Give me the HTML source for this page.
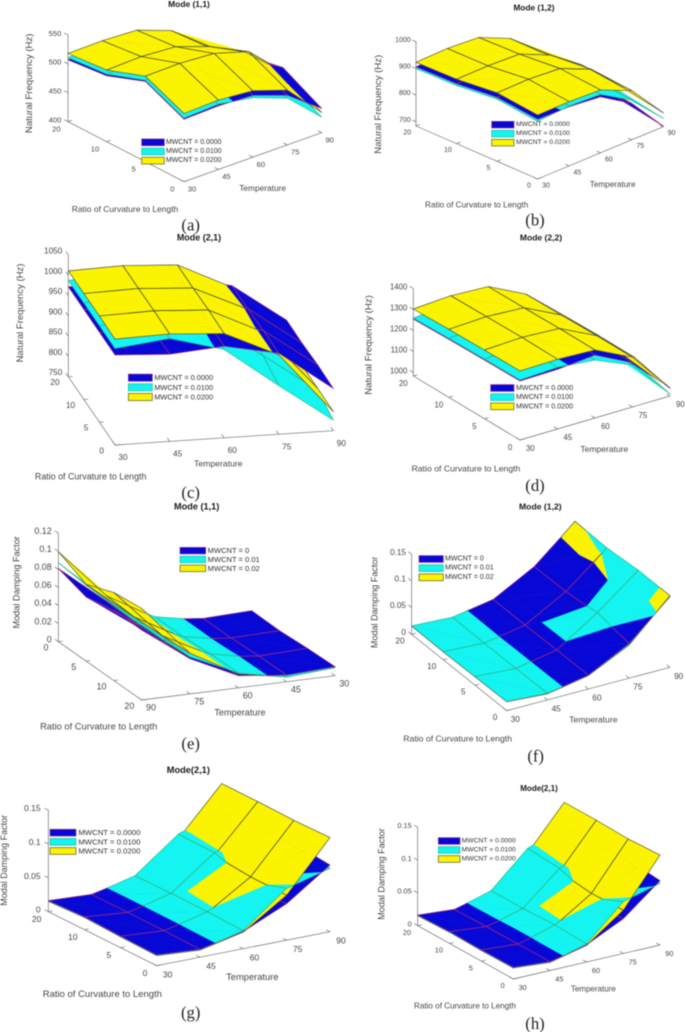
<!DOCTYPE html>
<html lang="en">
<head>
<meta charset="utf-8">
<title>Natural frequency and modal damping surfaces</title>
<style>
html,body{margin:0;padding:0;background:#fff;}
#figure{display:block;width:685px;height:1032px;filter:blur(.45px);font-family:"Liberation Sans",Arial,sans-serif;}
</style>
</head>
<body>
<svg id="figure" xmlns="http://www.w3.org/2000/svg" width="685" height="1032" viewBox="0 0 685 1032"></svg>
<script>
const temperatureTicks = [30, 45, 60, 75, 90];
const ratioTicks = [0, 5, 10, 20];

const freqLegend = ["MWCNT = 0.0000", "MWCNT = 0.0100", "MWCNT = 0.0200"];
const shortLegend = ["MWCNT = 0", "MWCNT = 0.01", "MWCNT = 0.02"];

const aZTicks = [400, 450, 500, 550];
const aBlue = [[508,510,507,486,442],[539,540,537,518,478],[514,517,514,492,460],[507,510,507,486,435]];
const aCyan = [[510,513,503,481,427],[541,542,534,513,462],[517,519,511,487,460],[511,512,504,480,430]];
const aYellow = [[518,520,515,495,435],[548,549,545,527,471],[524,526,522,501,471],[518,519,516,494,446]];

const bZTicks = [700, 800, 900, 1000];
const bBlue = [[908,906,894,820,686],[924,924,908,834,715],[909,908,896,821,733],[906,907,892,817,713]];
const bCyan = [[900,909,903,833,715],[917,927,917,847,744],[902,911,905,834,762],[899,910,901,830,742]];
const bYellow = [[924,925,920,868,736],[941,943,934,882,765],[926,927,922,869,783],[923,926,918,865,763]];

const cZTicks = [750, 800, 850, 900, 950, 1000, 1050];
const cBlue = [[972,965,976,950,854],[972,965,976,950,856],[972,965,976,948,853],[972,965,976,948,854]];
const cCyan = [[988,1004,968,870,776],[988,1004,970,888,794],[988,1004,970,885,790],[987,1004,970,885,785]];
const cYellow = [[1011,1015,1007,946,797],[1012,1016,1009,946,798],[1011,1015,1007,946,798],[1011,1015,1008,944,798]];

const dZTicks = [1000, 1100, 1200, 1300, 1400];
const dBlue = [[1264,1267,1283,1194,1022],[1262,1270,1284,1195,1060],[1259,1267,1281,1192,1061],[1254,1265,1280,1190,1058]];
const dCyan = [[1269,1277,1259,1183,993],[1267,1280,1260,1184,1039],[1264,1277,1257,1181,1040],[1259,1275,1256,1179,1037]];
const dYellow = [[1312,1315,1307,1220,1020],[1310,1318,1308,1221,1066],[1307,1315,1305,1218,1067],[1302,1313,1304,1216,1064]];

const eZTicks = [0, 0.02, 0.04, 0.06, 0.08, 0.1, 0.12];
const eBlue = [[0.0074,0.0056,0.0112,0.038,0.081],[0.0068,0.0055,0.0106,0.036,0.071],[0.0089,0.007,0.013,0.037,0.078],[0.01,0.0074,0.0135,0.039,0.0775]];
const eCyan = [[0.0064,0.0036,0.0142,0.04,0.0875],[0.0058,0.0035,0.0136,0.038,0.084],[0.0079,0.005,0.016,0.039,0.0857],[0.009,0.0054,0.0165,0.041,0.087]];
const eYellow = [[0.0062,0.0034,0.0132,0.044,0.0997],[0.0056,0.0033,0.0126,0.042,0.085],[0.0077,0.0048,0.015,0.043,0.0975],[0.0088,0.0052,0.0155,0.045,0.1015]];

const fZTicks = [0, 0.05, 0.1, 0.15];
const fBlue = [[0.017,0.012,0.026,0.065,0.1325],[0.016,0.011,0.0256,0.074,0.132],[0.015,0.0106,0.0245,0.067,0.1277],[0.0156,0.0116,0.025,0.066,0.13]];
const fCyan = [[0.0174,0.0123,0.0255,0.0629,0.134],[0.0164,0.0113,0.0251,0.0757,0.1344],[0.0154,0.0109,0.024,0.0637,0.1288],[0.016,0.0119,0.0245,0.063,0.1307]];
const fYellow = [[0.0166,0.0112,0.025,0.0619,0.1345],[0.0156,0.0102,0.0246,0.0745,0.1334],[0.0146,0.0098,0.0235,0.0651,0.1286],[0.0152,0.0108,0.024,0.0645,0.1308]];

const gZTicks = [0, 0.05, 0.1, 0.15];
const gBlue = [[0.016,0.0116,0.0253,0.054,0.0985],[0.017,0.0126,0.0267,0.05,0.104],[0.019,0.013,0.0273,0.05,0.104],[0.0163,0.013,0.0267,0.05,0.104]];
const gCyan = [[0.0153,0.0109,0.0266,0.0766,0.0936],[0.0163,0.0119,0.028,0.059,0.1],[0.0183,0.0123,0.0286,0.076,0.1],[0.0156,0.0123,0.028,0.077,0.1]];
const gYellow = [[0.0148,0.0104,0.0246,0.0665,0.139],[0.0158,0.0114,0.0267,0.067,0.138],[0.0178,0.0118,0.0266,0.072,0.139],[0.0151,0.0118,0.026,0.07,0.139]];

const hZTicks = [0, 0.05, 0.1, 0.15];
const hBlue = [[0.0178,0.0135,0.0261,0.053,0.098],[0.0173,0.0133,0.0282,0.05,0.103],[0.018,0.0127,0.0262,0.05,0.103],[0.0162,0.0119,0.0261,0.05,0.103]];
const hCyan = [[0.0171,0.0128,0.0274,0.079,0.094],[0.0166,0.0126,0.0295,0.058,0.1],[0.0173,0.012,0.0275,0.0755,0.1],[0.0155,0.0112,0.0274,0.079,0.1]];
const hYellow = [[0.0166,0.0123,0.0254,0.066,0.137],[0.0161,0.0121,0.0282,0.0645,0.1345],[0.0168,0.0115,0.0255,0.0705,0.136],[0.015,0.0107,0.0254,0.072,0.136]];

const seriesFill = ["#0808d6", "#14f4f0", "#fbf300"];
const seriesEdge = ["#a0287c", "#28b884", "#50503a"];
const NS = "http://www.w3.org/2000/svg";
const zFreq = "Natural Frequency (Hz)";
const zDamp = "Modal Damping Factor";

const panels = [
 {cap:"(a)",title:"Mode (1,1)",zTitle:zFreq,ox:0,oy:0,O:[552,545],t:[103.25,-36.75],r:[-116,-60],zMin:400,zMax:550,h:260,zTicks:aZTicks,s:[aBlue,aCyan,aYellow],
  row:0,col:0,zc:[0,3],tf:22.8,zl:[-20,-5],rl:[-35,22],tl:[24,22],tP:[788,564],tS:25,rP:[375,627],rS:25.5,ttP:[567,12],ttS:25.3,zP:[88,250],zS:28.8,cP:[572,675],
  leg:{x:425,y:427,rowH:27.5,sw:68,tx:498,fs:20.8,names:freqLegend}},
 {cap:"(b)",title:"Mode (1,2)",zTitle:zFreq,ox:345,oy:0,O:[578,537],t:[94.25,-39.25],r:[-121.7,-53],zMin:684,zMax:1000,h:252.8,zTicks:bZTicks,s:[bBlue,bCyan,bYellow],
  row:0,col:0,zc:[0,3],tf:21,zl:[-16,-4],rl:[-26,21],tl:[25,21],tP:[803,553],tS:24.5,rP:[395,615],rS:24.7,ttP:[567,23],ttS:24.9,zP:[100,313],zS:28.6,cP:[570,660],
  leg:{x:440,y:374,rowH:27,sw:67,tx:513,fs:20.2,names:freqLegend}},
 {cap:"(c)",title:"Mode (2,1)",zTitle:zFreq,ox:0,oy:240,O:[345,615],t:[163.75,-10.75],r:[-46.7,-68.3],zMin:750,zMax:1050,h:365,zTicks:cZTicks,s:[cBlue,cCyan,cYellow],
  row:0,col:0,zc:[0,3],tf:24.7,zl:[-18,-12],rl:[-40,18],tl:[24,38],tP:[655,670],tS:26,rP:[272,709],rS:26.7,ttP:[597,-8],ttS:26.9,zP:[62,219],zS:28.6,cP:[572,757],
  leg:{x:385,y:413,rowH:29,sw:72,tx:463,fs:22,names:freqLegend}},
 {cap:"(d)",title:"Mode (2,2)",zTitle:zFreq,ox:345,oy:240,O:[525,600],t:[112.5,-33],r:[-106.7,-64],zMin:983,zMax:1400,h:262.7,zTicks:dZTicks,s:[dBlue,dCyan,dYellow],
  row:0,col:0,zc:[0,3],tf:23.4,zl:[-18,-5],rl:[-30,23],tl:[31,25],tP:[778,627],tS:25.7,rP:[363,686],rS:26,ttP:[588,-8],ttS:25.7,zP:[72,315],zS:28.8,cP:[570,737],
  leg:{x:437,y:444,rowH:27.5,sw:70,tx:513,fs:21.4,names:freqLegend}},
 {cap:"(e)",title:"Mode (1,1)",zTitle:zDamp,ox:0,oy:500,O:[755,352],t:[-145,18.25],r:[83.33,58.33],zMin:0,zMax:0.12,h:325,zTicks:eZTicks,s:[eBlue,eCyan,eYellow],
  row:3,col:4,zc:[4,0],tf:26.7,zl:[-20,-7],rl:[-37,18],tl:[28,23],tP:[720,637],tS:27.4,rP:[296,680],rS:28,ttP:[590,20],ttS:27.5,zP:[50,247],zS:27.4,cP:[572,730],
  leg:{x:540,y:152,rowH:26.5,sw:77,tx:623,fs:22.7,names:shortLegend}},
 {cap:"(f)",title:"Mode (1,2)",zTitle:zDamp,ox:345,oy:500,O:[485,632],t:[122.5,-32.5],r:[-95,-76.33],zMin:0,zMax:0.15,h:240,zTicks:fZTicks,s:[fBlue,fCyan,fYellow],
  row:0,col:0,zc:[0,3],tf:24.7,zl:[-17,-6],rl:[-35,20],tl:[26,27],tP:[745,658],tS:25.9,rP:[338,716],rS:26,ttP:[586,20],ttS:25.9,zP:[88,307],zS:27.2,cP:[572,768],
  leg:{x:222,y:177,rowH:27.5,sw:73,tx:300,fs:21.2,names:shortLegend}},
 {cap:"(g)",title:"Mode(2,1)",zTitle:zDamp,ox:0,oy:760,O:[470,617],t:[130,-25.5],r:[-108.33,-54],zMin:0,zMax:0.15,h:304.5,zTicks:gZTicks,s:[gBlue,gCyan,gYellow],
  row:0,col:0,zc:[0,3],tf:25.7,zl:[-23,-6],rl:[-35,22],tl:[33,26],tP:[757,651],tS:28,rP:[307,703],rS:28.5,ttP:[565,30],ttS:27.8,zP:[12,301],zS:27,cP:[572,758],
  leg:{x:150,y:218,rowH:27.5,sw:78,tx:235,fs:23.3,names:freqLegend}},
 {cap:"(h)",title:"Mode(2,1)",zTitle:zDamp,ox:345,oy:760,O:[505,657],t:[110,-25.5],r:[-95.67,-53.33],zMin:0,zMax:0.15,h:295.5,zTicks:hZTicks,s:[hBlue,hCyan,hYellow],
  row:0,col:0,zc:[0,3],tf:22,zl:[-18,-5],rl:[-32,20],tl:[28,25],tP:[745,687],tS:24.1,rP:[360,738],rS:24.4,ttP:[582,86],ttS:24.2,zP:[110,342],zS:27.2,cP:[570,790],
  leg:{x:280,y:243,rowH:27,sw:65,tx:350,fs:20.3,names:freqLegend}}
];

const orders = [[0,1,2],[0,2,1],[1,0,2],[1,2,0],[2,0,1],[2,1,0]];

function make(parent, tag){
  const el = document.createElementNS(NS, tag);
  parent.appendChild(el);
  return el;
}
function drawLine(parent, x1, y1, x2, y2, color, width){
  const el = make(parent, "line");
  el.setAttribute("x1", x1.toFixed(1));
  el.setAttribute("y1", y1.toFixed(1));
  el.setAttribute("x2", x2.toFixed(1));
  el.setAttribute("y2", y2.toFixed(1));
  el.setAttribute("stroke", color);
  el.setAttribute("stroke-width", width);
  el.setAttribute("stroke-linecap", "round");
  return el;
}
function drawText(parent, x, y, str, size, color, anchor, weight){
  const el = make(parent, "text");
  el.setAttribute("x", x);
  el.setAttribute("y", y);
  el.setAttribute("font-size", size);
  el.setAttribute("fill", color);
  el.setAttribute("text-anchor", anchor);
  el.setAttribute("dominant-baseline", "central");
  if (weight) el.setAttribute("font-weight", weight);
  el.textContent = str;
  return el;
}
function mix(a, b, k){
  return {x:a.x+(b.x-a.x)*k, y:a.y+(b.y-a.y)*k, z:a.z.map((v,i)=>v+(b.z[i]-v)*k)};
}
function clipPoly(poly, hi, lo){
  const out = [];
  for (let i=0;i<poly.length;i++){
    const a = poly[i], b = poly[(i+1)%poly.length];
    const da = a.z[hi]-a.z[lo], db = b.z[hi]-b.z[lo];
    if (da>=0) out.push(a);
    if ((da>=0)!==(db>=0)) out.push(mix(a,b,da/(da-db)));
  }
  return out;
}
function clipSeg(seg, hi, lo){
  if (seg.length<2) return [];
  const a = seg[0], b = seg[1];
  const da = a.z[hi]-a.z[lo], db = b.z[hi]-b.z[lo];
  if (da<0 && db<0) return [];
  if (da>=0 && db>=0) return seg;
  const m = mix(a,b,da/(da-db));
  return da>=0 ? [a,m] : [m,b];
}
function floorArea(poly){
  let s = 0;
  for (let i=0;i<poly.length;i++){
    const a = poly[i], b = poly[(i+1)%poly.length];
    s += a.x*b.y-b.x*a.y;
  }
  return Math.abs(s)/2;
}
function unit(v){
  const n = Math.hypot(v[0],v[1]);
  return [v[0]/n,v[1]/n];
}

function drawPanel(p){
  const root = document.getElementById("figure");
  const g = make(root, "g");
  g.setAttribute("transform", "translate("+p.ox+" "+p.oy+") scale(0.33333)");
  
  

  const tPos = v => (v-temperatureTicks[0])/(temperatureTicks[temperatureTicks.length-1]-temperatureTicks[0])*(temperatureTicks.length-1);
  const rPos = v => ratioTicks.indexOf(v);
  const zPix = v => (v-p.zMin)/(p.zMax-p.zMin)*p.h;
  const fx = (ti,ri) => p.O[0]+ti*p.t[0]+ri*p.r[0];
  const fy = (ti,ri) => p.O[1]+ti*p.t[1]+ri*p.r[1];

  const axisColor = "#6a6a6a", textColor = "#454545", tickLen = 12;
  const lastT = temperatureTicks.length-1, lastR = ratioTicks.length-1;

  /* axes */
  const zx = fx(p.zc[0],p.zc[1]), zy = fy(p.zc[0],p.zc[1]);
  const zAxis = drawLine(g, zx, zy, zx, zy-zPix(p.zMax), axisColor, 2);
  
  
  const rDir = unit(p.r), tDir = unit(p.t);
  const zOut = p.zc[1]===0 ? -1 : 1;
  p.zTicks.forEach(v=>{
    const y = zy-zPix(v);
    const tick = drawLine(g, zx, y, zx+zOut*rDir[0]*tickLen, y+zOut*rDir[1]*tickLen, axisColor, 2);
    
    
    const lab = drawText(g, zx+p.zl[0], y+p.zl[1], String(v), p.tf, textColor, "end");
    
    
  });

  const tAxis = drawLine(g, fx(0,p.row), fy(0,p.row), fx(lastT,p.row), fy(lastT,p.row), axisColor, 2);
  
  
  const tIn = p.row===0 ? 1 : -1;
  temperatureTicks.forEach(v=>{
    const i = tPos(v), x = fx(i,p.row), y = fy(i,p.row);
    const tick = drawLine(g, x, y, x+tIn*rDir[0]*tickLen, y+tIn*rDir[1]*tickLen, axisColor, 2);
    
    
    const lab = drawText(g, x+p.tl[0], y+p.tl[1], String(v), p.tf, textColor, "middle");
    
    
  });

  const rAxis = drawLine(g, fx(p.col,0), fy(p.col,0), fx(p.col,lastR), fy(p.col,lastR), axisColor, 2);
  
  
  const rIn = p.col===0 ? 1 : -1;
  ratioTicks.forEach(v=>{
    const i = rPos(v), x = fx(p.col,i), y = fy(p.col,i);
    const tick = drawLine(g, x, y, x+rIn*tDir[0]*tickLen, y+rIn*tDir[1]*tickLen, axisColor, 2);
    
    
    const lab = drawText(g, x+p.rl[0], y+p.rl[1], String(v), p.tf, textColor, "middle");
    
    
  });

  /* surfaces: split every triangle by which series is lowest, middle and highest,
     then paint all lowest pieces, all middle pieces, and finally the upper envelope */
  const node = (ti,ri) => ({x:fx(ti,ri), y:fy(ti,ri), z:p.s.map(m=>zPix(m[ri][ti]))});
  const tris = [];
  for (let ri=0;ri<lastR;ri++){
    for (let ti=0;ti<lastT;ti++){
      const A = node(ti,ri), B = node(ti+1,ri), C = node(ti,ri+1), D = node(ti+1,ri+1);
      tris.push({pts:[A,B,C], edges:[[A,B],[A,C]]});
      tris.push({pts:[B,D,C], edges:[[B,D],[D,C]]});
    }
  }
  tris.sort((u,v)=>(u.pts[0].y+u.pts[1].y+u.pts[2].y)-(v.pts[0].y+v.pts[1].y+v.pts[2].y));

  const layers = [[],[],[]];
  tris.forEach(tri=>{
    orders.forEach(o=>{
      const region = clipPoly(clipPoly(tri.pts,o[1],o[0]),o[2],o[1]);
      if (region.length<3 || floorArea(region)<0.5) return;
      const segs = [];
      tri.edges.forEach(e=>{
        const seg = clipSeg(clipSeg(e,o[1],o[0]),o[2],o[1]);
        if (seg.length===2 && Math.hypot(seg[0].x-seg[1].x,seg[0].y-seg[1].y)>=0.5) segs.push(seg);
      });
      o.forEach((s,k)=>{
        layers[k].push({region:region,s:s,segs:segs});
      });
    });
  });

  const surface = make(g, "g");
  
  
  layers.forEach((layer,k)=>{
    layer.forEach(item=>{
      const poly = make(surface, "polygon");
      poly.setAttribute("points", item.region.map(v=>v.x.toFixed(1)+","+(v.y-v.z[item.s]).toFixed(1)).join(" "));
      poly.setAttribute("fill", seriesFill[item.s]);
      poly.setAttribute("stroke", seriesFill[item.s]);
      poly.setAttribute("stroke-width", "0.8");
      
      
    });
    layer.forEach(item=>{
      item.segs.forEach(seg=>{
        const line = drawLine(surface, seg[0].x, seg[0].y-seg[0].z[item.s], seg[1].x, seg[1].y-seg[1].z[item.s], seriesEdge[item.s], 2);
        
        
      });
    });
  });

  /* titles */
  const title = drawText(g, p.ttP[0], p.ttP[1], p.title, p.ttS, "#1a1a1a", "middle", "bold");
  
  
  const tempTitle = drawText(g, p.tP[0], p.tP[1], "Temperature", p.tS, textColor, "middle");
  
  
  const ratioTitle = drawText(g, p.rP[0], p.rP[1], "Ratio of Curvature to Length", p.rS, textColor, "middle");
  
  
  const zTitle = drawText(g, 0, 0, p.zTitle, p.zS, textColor, "middle");
  zTitle.setAttribute("transform", "translate("+p.zP[0]+" "+p.zP[1]+") rotate(-90)");
  
  
  const caption = drawText(g, p.cP[0], p.cP[1], p.cap, 50, "#222222", "middle");
  caption.setAttribute("font-family", '"Liberation Serif", "Times New Roman", serif');
  
  

  /* legend */
  const legend = make(g, "g");
  
  
  p.leg.names.forEach((name,i)=>{
    const cy = p.leg.y+i*p.leg.rowH;
    const hgt = p.leg.rowH*0.74;
    const entry = make(legend, "g");
    
    
    const swatch = make(entry, "rect");
    swatch.setAttribute("x", p.leg.x);
    swatch.setAttribute("y", cy-hgt/2);
    swatch.setAttribute("width", p.leg.sw);
    swatch.setAttribute("height", hgt);
    swatch.setAttribute("fill", seriesFill[i]);
    swatch.setAttribute("stroke", seriesEdge[i]);
    swatch.setAttribute("stroke-width", "2");
    
    
    const label = drawText(entry, p.leg.tx, cy, name, p.leg.fs, "#303030", "start");
    
    
  });
}
panels.forEach(drawPanel);
</script>
</body>
</html>
